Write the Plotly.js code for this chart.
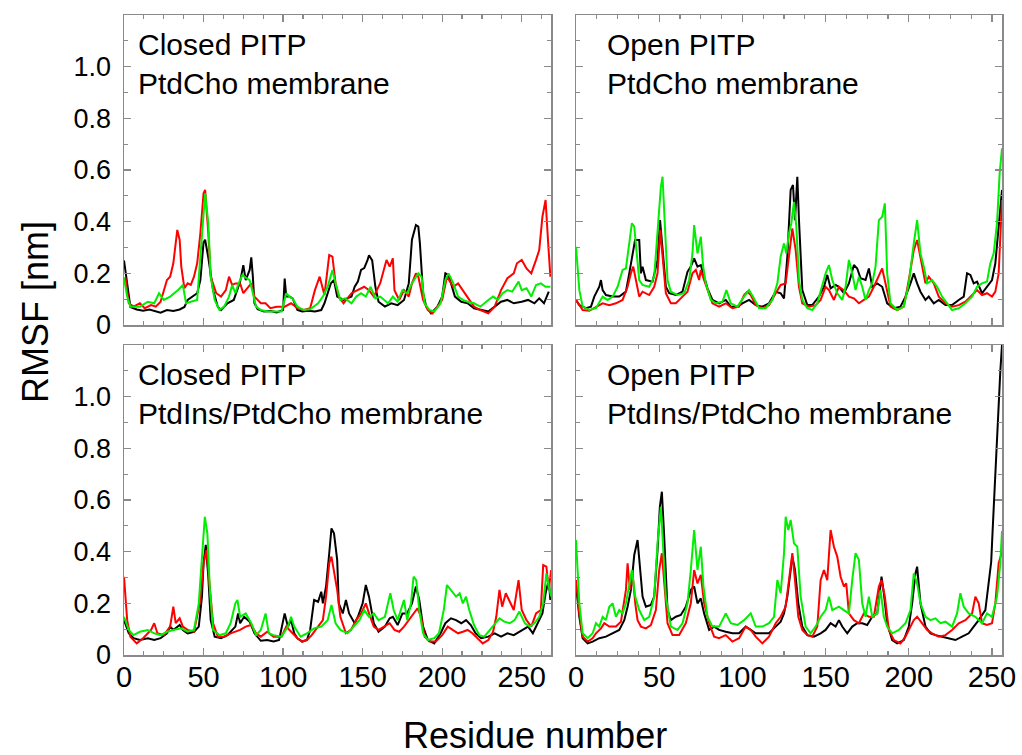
<!DOCTYPE html>
<html>
<head>
<meta charset="utf-8">
<script src="https://cdn.plot.ly/plotly-3.0.1.min.js"></script>
<style>
  html, body { margin: 0; padding: 0; background: #ffffff; }
  #chart { width: 1022px; height: 755px; }
</style>
</head>
<body>
<div id="chart"></div>
<script>
// RMSF per residue, [residue, rmsf in nm], for each simulation and replica colour.

// Closed PITP, PtdCho membrane
const closedPcBlack = [[0,0.25],[4,0.07],[8,0.06],[12,0.055],[16,0.06],[20,0.052],[23,0.048],[27,0.058],[31,0.054],[35,0.06],[38,0.07],[40,0.097],[43,0.11],[46,0.123],[48,0.174],[50,0.32],[51,0.33],[53,0.26],[56,0.135],[59,0.07],[61,0.058],[65,0.084],[69,0.097],[73,0.168],[75,0.232],[76.5,0.174],[79,0.213],[80,0.262],[81,0.187],[82,0.084],[84,0.061],[88,0.052],[92,0.054],[96,0.049],[100,0.058],[101,0.18],[102,0.11],[104,0.11],[106,0.103],[109,0.058],[112,0.052],[116,0.055],[120,0.052],[124,0.058],[126,0.084],[130,0.161],[132,0.174],[134,0.11],[138,0.097],[143,0.11],[145,0.148],[147,0.168],[149,0.213],[151,0.22],[153,0.25],[154,0.27],[156,0.25],[158,0.148],[160,0.09],[164,0.071],[168,0.084],[172,0.077],[176,0.097],[179,0.161],[181,0.33],[183.5,0.387],[185,0.381],[186,0.316],[188,0.123],[190,0.071],[193,0.045],[197,0.071],[200,0.11],[202,0.2],[204,0.194],[208,0.11],[212,0.09],[216,0.084],[220,0.065],[224,0.058],[229,0.052],[233,0.071],[237,0.09],[241,0.097],[245,0.084],[250,0.09],[254,0.097],[258,0.084],[261,0.103],[264,0.084],[267,0.129]];
const closedPcRed = [[0,0.18],[1,0.18],[3,0.084],[6,0.071],[10,0.084],[13,0.065],[17,0.077],[20,0.071],[23,0.09],[27,0.174],[29,0.187],[31,0.239],[33.5,0.368],[35,0.329],[36,0.226],[37,0.187],[38,0.142],[40,0.161],[42,0.155],[44,0.187],[46,0.239],[48,0.355],[50,0.51],[51,0.523],[53,0.355],[54.5,0.187],[58,0.123],[61,0.11],[64,0.135],[66,0.187],[68,0.155],[70,0.161],[73,0.161],[75,0.123],[78,0.148],[80,0.161],[82,0.11],[86,0.084],[89,0.084],[92,0.065],[96,0.071],[101,0.071],[105,0.084],[109,0.065],[113,0.058],[117,0.065],[120,0.135],[123,0.187],[126,0.116],[129,0.271],[131,0.265],[133,0.161],[135,0.11],[138,0.084],[143,0.123],[147,0.135],[151,0.148],[154,0.135],[157,0.11],[161,0.161],[165,0.252],[167,0.226],[169,0.258],[170,0.135],[173,0.097],[176,0.135],[179,0.11],[181,0.161],[183.5,0.2],[185,0.187],[188,0.097],[191,0.058],[194,0.045],[197,0.071],[200,0.097],[203,0.187],[207,0.148],[210,0.161],[213,0.135],[216,0.11],[220,0.071],[224,0.058],[229,0.045],[233,0.071],[237,0.135],[241,0.181],[245,0.2],[247,0.239],[250,0.252],[253,0.219],[256,0.2],[259,0.252],[261,0.29],[263,0.419],[265,0.484],[266.5,0.329],[268,0.187]];
const closedPcGreen = [[0,0.181],[2,0.11],[4,0.071],[6,0.071],[10,0.071],[15,0.09],[19,0.084],[22,0.123],[25,0.097],[29,0.11],[34,0.135],[37,0.155],[39,0.084],[42,0.09],[46,0.097],[48,0.265],[50,0.458],[51,0.51],[53,0.394],[54.5,0.187],[57,0.097],[60,0.058],[63,0.071],[66,0.11],[68,0.155],[70,0.123],[72,0.161],[74.5,0.194],[77,0.181],[79,0.174],[81,0.123],[83,0.071],[86,0.058],[90,0.052],[94,0.052],[99,0.052],[102,0.123],[104,0.11],[106,0.103],[109,0.071],[113,0.058],[117,0.061],[122,0.084],[125,0.11],[128,0.148],[131,0.213],[133,0.161],[136,0.097],[139,0.103],[143,0.084],[146,0.11],[149,0.123],[152,0.11],[155,0.148],[158,0.103],[161,0.11],[166,0.084],[169,0.11],[172,0.09],[175,0.135],[178,0.123],[181,0.161],[185,0.2],[187,0.187],[189,0.084],[192,0.058],[195,0.052],[199,0.084],[202,0.174],[204,0.2],[207,0.161],[210,0.11],[213,0.097],[216,0.09],[220,0.084],[224,0.071],[229,0.097],[232,0.11],[235,0.097],[238,0.123],[241,0.135],[244,0.129],[248,0.168],[250,0.135],[253,0.142],[256,0.11],[259,0.155],[262,0.161],[265,0.148],[268,0.148]];

// Open PITP, PtdCho membrane
const openPcBlack = [[0,0.097],[2,0.077],[6,0.065],[9,0.071],[11,0.11],[14,0.148],[15,0.174],[16,0.135],[18,0.116],[22,0.11],[26,0.11],[30,0.129],[32,0.2],[34,0.277],[35.5,0.329],[38,0.329],[39,0.2],[40,0.226],[42,0.174],[46,0.168],[49,0.252],[50.5,0.406],[52,0.303],[54,0.148],[56,0.123],[60,0.116],[64,0.129],[67,0.206],[69,0.226],[71,0.258],[73,0.226],[75,0.232],[77,0.187],[79,0.142],[82,0.097],[86,0.084],[90,0.097],[93,0.071],[97,0.071],[100,0.084],[104,0.097],[108,0.077],[112,0.071],[116,0.084],[120,0.129],[123,0.123],[125,0.103],[127,0.265],[129,0.523],[130.4,0.542],[131.6,0.406],[133,0.574],[134,0.406],[136,0.135],[139,0.077],[142,0.077],[146,0.11],[149,0.148],[151,0.194],[153,0.142],[156,0.155],[158,0.148],[161,0.123],[164,0.161],[167,0.232],[169,0.219],[171,0.181],[174,0.174],[176,0.219],[178,0.148],[181,0.161],[184,0.148],[187,0.084],[191,0.065],[195,0.071],[198,0.11],[201,0.161],[203,0.2],[205,0.161],[207,0.129],[210,0.097],[212,0.11],[215,0.084],[218,0.097],[222,0.077],[226,0.077],[230,0.097],[233,0.11],[235,0.2],[237,0.194],[239,0.161],[241,0.168],[244,0.123],[247,0.148],[250,0.174],[252,0.239],[254,0.394],[256,0.523]];
const openPcRed = [[0,0.097],[4,0.058],[8,0.055],[12,0.071],[16,0.084],[20,0.077],[24,0.084],[28,0.097],[31,0.148],[33,0.2],[34.4,0.226],[36,0.174],[38,0.11],[40,0.129],[44,0.116],[47,0.148],[49,0.2],[50.6,0.368],[52,0.277],[54,0.123],[57,0.084],[60,0.084],[64,0.11],[67,0.129],[70,0.2],[72,0.213],[74,0.174],[75,0.213],[77,0.174],[79,0.135],[82,0.084],[86,0.071],[90,0.084],[94,0.065],[98,0.071],[101,0.116],[103,0.129],[105,0.116],[108,0.077],[112,0.065],[116,0.077],[120,0.123],[123,0.155],[126,0.161],[128,0.265],[130,0.374],[132,0.29],[134,0.148],[136,0.084],[140,0.071],[144,0.077],[147,0.097],[150,0.148],[152,0.135],[155,0.097],[158,0.148],[161,0.135],[164,0.11],[167,0.103],[170,0.084],[173,0.097],[176,0.11],[179,0.148],[181,0.174],[184,0.219],[186,0.161],[189,0.071],[193,0.058],[197,0.071],[200,0.174],[203,0.29],[205,0.329],[207,0.258],[210,0.161],[212,0.187],[215,0.161],[218,0.11],[222,0.084],[226,0.071],[230,0.077],[234,0.09],[238,0.116],[241,0.135],[244,0.116],[247,0.123],[250,0.11],[252,0.129],[254,0.2],[256,0.484]];
const openPcGreen = [[0,0.303],[2,0.135],[4,0.071],[8,0.058],[12,0.065],[16,0.11],[19,0.097],[22,0.11],[25,0.148],[28,0.213],[30,0.219],[32,0.329],[33.6,0.394],[35,0.381],[36,0.303],[38,0.174],[40,0.155],[44,0.148],[47,0.187],[49,0.368],[51,0.535],[52,0.574],[53,0.419],[55,0.174],[57,0.129],[61,0.116],[65,0.123],[68,0.174],[70,0.277],[71,0.387],[73,0.277],[75,0.342],[76.4,0.226],[78,0.161],[81,0.097],[84,0.084],[88,0.09],[90.4,0.135],[93,0.084],[97,0.071],[101,0.11],[104,0.135],[107,0.103],[110,0.065],[114,0.065],[118,0.097],[121,0.161],[123,0.265],[125,0.316],[126.4,0.277],[128,0.355],[129.4,0.394],[131,0.477],[132.4,0.381],[134,0.174],[136,0.097],[139,0.065],[142,0.058],[145,0.084],[148,0.148],[150,0.2],[152,0.232],[154,0.174],[157,0.123],[160,0.097],[162,0.148],[164,0.252],[166,0.2],[168,0.135],[170,0.187],[172,0.148],[174,0.097],[176,0.135],[178,0.161],[180,0.226],[182,0.406],[184,0.419],[185.6,0.471],[187,0.2],[189,0.084],[193,0.058],[197,0.071],[200,0.161],[203,0.316],[205,0.406],[207,0.277],[209,0.226],[211,0.161],[214,0.174],[217,0.148],[220,0.11],[223,0.084],[226,0.058],[230,0.065],[234,0.084],[238,0.11],[241,0.148],[244,0.161],[247,0.168],[249,0.239],[251,0.277],[253,0.394],[254.6,0.587],[256,0.684]];

// Closed PITP, PtdIns/PtdCho membrane
const closedPiBlack = [[0,0.135],[3,0.084],[6,0.065],[10,0.058],[15,0.065],[19,0.058],[23,0.065],[27,0.084],[29,0.11],[31,0.097],[35,0.116],[37,0.097],[40,0.084],[44,0.09],[47,0.11],[49,0.226],[50,0.355],[51.4,0.426],[53,0.303],[54.5,0.135],[57,0.071],[61,0.065],[65,0.077],[68,0.097],[70,0.11],[71.7,0.161],[73,0.123],[75.5,0.148],[79,0.129],[82,0.084],[86,0.055],[90,0.058],[94,0.052],[97.5,0.058],[101,0.161],[103,0.11],[105,0.135],[107,0.084],[109,0.065],[112,0.052],[115,0.058],[117,0.097],[119.5,0.213],[122,0.206],[124,0.245],[125,0.2],[127,0.265],[129,0.394],[130.4,0.49],[132,0.471],[134,0.368],[135,0.2],[137.5,0.161],[139.5,0.213],[141.5,0.161],[145,0.123],[147,0.148],[150,0.2],[152,0.271],[154,0.226],[157,0.123],[160,0.09],[164,0.11],[167,0.142],[169,0.148],[172,0.116],[175,0.161],[178,0.161],[181,0.2],[183.5,0.265],[185.6,0.213],[188,0.11],[191,0.058],[195,0.045],[199,0.084],[202,0.123],[205.5,0.142],[208.7,0.135],[212,0.123],[215,0.135],[218,0.116],[221,0.084],[224.5,0.065],[229,0.071],[233,0.084],[237,0.071],[241,0.084],[245,0.077],[250,0.097],[254,0.11],[257,0.084],[260,0.123],[263,0.161],[265,0.239],[267,0.29],[268,0.213]];
const closedPiRed = [[0,0.303],[2,0.135],[4,0.071],[8,0.045],[12,0.065],[17,0.097],[19,0.123],[21,0.084],[25,0.077],[29,0.11],[31,0.187],[32.5,0.123],[35,0.142],[37,0.11],[40,0.097],[44,0.09],[48,0.213],[50,0.355],[51.8,0.406],[53.5,0.29],[56,0.123],[59,0.071],[63,0.071],[67,0.084],[70,0.09],[73,0.097],[76.5,0.11],[80,0.116],[83,0.084],[86,0.071],[90,0.09],[94,0.071],[99,0.071],[102,0.11],[104,0.097],[106,0.084],[109,0.065],[112,0.052],[115,0.058],[118,0.077],[122,0.11],[125,0.135],[127,0.226],[129,0.355],[130.4,0.381],[132,0.329],[134,0.252],[136,0.148],[139.5,0.084],[142.6,0.097],[146,0.135],[149,0.161],[152,0.2],[154,0.161],[157,0.11],[160,0.097],[164,0.11],[167,0.123],[170,0.097],[173,0.09],[176,0.11],[179,0.135],[182,0.161],[184.5,0.181],[186.7,0.148],[189,0.071],[192,0.052],[196,0.052],[200,0.077],[203.5,0.11],[206.6,0.097],[210,0.084],[213,0.09],[216,0.097],[219,0.084],[222,0.065],[225.5,0.045],[229,0.058],[232,0.09],[234,0.148],[236,0.252],[237.7,0.187],[240,0.239],[242,0.213],[245,0.174],[248,0.29],[250,0.174],[253,0.135],[256,0.11],[259,0.161],[262,0.174],[263.5,0.348],[265.5,0.342],[267,0.252],[268.5,0.329]];
const closedPiGreen = [[0,0.148],[3,0.097],[6,0.077],[10,0.09],[15,0.097],[19,0.084],[23,0.077],[27,0.09],[31,0.097],[36,0.103],[40,0.09],[44,0.097],[47,0.2],[49,0.394],[50.8,0.535],[52.4,0.471],[54,0.252],[56,0.097],[60,0.077],[64,0.084],[67,0.123],[70,0.2],[71.3,0.213],[73,0.148],[76.5,0.161],[80,0.123],[83,0.077],[86,0.097],[89,0.161],[91,0.084],[94,0.077],[99,0.071],[103,0.11],[105,0.148],[107,0.11],[111,0.071],[115,0.084],[119.5,0.103],[124,0.11],[128,0.135],[130.4,0.194],[133,0.123],[136,0.097],[140.5,0.084],[145,0.116],[148,0.135],[151,0.174],[154,0.148],[157,0.161],[160,0.135],[164,0.148],[166,0.2],[167.4,0.239],[169.5,0.174],[172,0.135],[174,0.174],[176,0.213],[178,0.135],[180.4,0.2],[182,0.303],[183.7,0.29],[185.6,0.174],[188,0.084],[191,0.058],[195,0.065],[198,0.084],[201,0.174],[203,0.271],[205.5,0.252],[208.7,0.226],[211,0.239],[213,0.2],[215,0.226],[217,0.174],[220,0.116],[223.4,0.077],[226.5,0.071],[230,0.097],[233,0.123],[236,0.142],[239,0.129],[242.5,0.123],[245.5,0.135],[248.5,0.168],[252,0.123],[255,0.11],[258,0.123],[261,0.148],[263.5,0.2],[265.5,0.316],[267,0.265],[268.5,0.226]];

// Open PITP, PtdIns/PtdCho membrane
const openPiBlack = [[0,0.27],[2,0.148],[4,0.065],[7,0.045],[10,0.052],[14,0.065],[18,0.071],[22,0.084],[26,0.097],[29,0.135],[31,0.187],[33,0.252],[35,0.387],[37,0.445],[38.6,0.329],[40,0.226],[42,0.187],[45,0.194],[47,0.226],[49,0.406],[50.4,0.574],[51.6,0.632],[53,0.458],[55,0.174],[57,0.135],[60,0.148],[63,0.155],[66,0.187],[69,0.252],[71,0.265],[73,0.2],[75,0.219],[77,0.161],[80,0.097],[83,0.11],[86,0.097],[90,0.09],[94,0.084],[98,0.084],[102,0.11],[105,0.097],[108,0.084],[112,0.084],[116,0.084],[120,0.11],[123,0.129],[125,0.161],[127,0.226],[129,0.329],[130,0.381],[131.6,0.329],[133.6,0.2],[136,0.11],[139,0.077],[143,0.071],[147,0.084],[150,0.097],[153,0.123],[156,0.11],[158,0.135],[160,0.11],[163,0.084],[166,0.11],[169,0.123],[172,0.123],[175,0.116],[178,0.148],[181,0.161],[183.6,0.303],[185,0.239],[187,0.123],[190,0.058],[193,0.045],[197,0.058],[200,0.11],[202,0.2],[204,0.316],[205,0.342],[207,0.2],[210,0.11],[213,0.084],[216,0.077],[220,0.071],[224,0.065],[228,0.058],[232,0.071],[236,0.084],[239,0.11],[242,0.135],[246,0.174],[248,0.28],[249.5,0.36],[250.5,0.5],[252,0.72],[253.5,0.92],[255,1.1],[256,1.2]];
const openPiRed = [[0,0.29],[2,0.161],[4,0.071],[7,0.052],[10,0.065],[12,0.084],[15,0.103],[17,0.123],[20,0.11],[24,0.11],[27,0.129],[30,0.252],[31,0.355],[32.4,0.252],[34,0.316],[35.6,0.2],[37,0.135],[39,0.11],[42,0.103],[45,0.116],[48,0.174],[50,0.329],[51.6,0.394],[53,0.29],[55,0.123],[58,0.077],[62,0.077],[66,0.123],[69,0.2],[71,0.329],[73,0.277],[75,0.31],[77,0.2],[80,0.123],[83,0.071],[86,0.065],[90,0.077],[94,0.052],[98,0.065],[102,0.11],[105,0.097],[108,0.071],[112,0.045],[116,0.071],[120,0.123],[123,0.148],[126,0.187],[128,0.29],[130,0.394],[131.6,0.29],[133.6,0.148],[136,0.097],[139,0.077],[142,0.071],[145,0.11],[147,0.29],[149,0.329],[151,0.29],[153,0.484],[155,0.419],[157,0.381],[159,0.303],[161,0.265],[162.4,0.277],[164,0.161],[167,0.135],[170,0.123],[173,0.161],[176,0.148],[179,0.148],[182,0.265],[183.6,0.29],[185.6,0.226],[188,0.097],[191,0.058],[195,0.045],[198,0.071],[201,0.11],[203,0.135],[205,0.148],[208,0.123],[211,0.097],[214,0.084],[218,0.071],[222,0.077],[226,0.097],[230,0.123],[234,0.135],[238,0.161],[240,0.226],[242,0.2],[244,0.123],[247,0.116],[250,0.123],[252,0.2],[254,0.355],[256,0.4]];
const openPiGreen = [[0,0.445],[2,0.2],[4,0.084],[7,0.065],[10,0.084],[12,0.123],[14,0.11],[16,0.148],[18,0.135],[20,0.187],[22,0.2],[24,0.148],[26,0.174],[28,0.161],[30,0.2],[32,0.265],[33.6,0.329],[35.6,0.226],[38,0.174],[41,0.135],[44,0.148],[47,0.226],[49,0.432],[51,0.574],[52.4,0.419],[54,0.226],[57,0.11],[61,0.097],[64,0.123],[67,0.2],[69,0.329],[71,0.484],[73,0.329],[75,0.419],[76.6,0.265],[79,0.148],[82,0.11],[86,0.11],[90,0.161],[93,0.123],[97,0.116],[101,0.135],[105,0.161],[108,0.11],[112,0.11],[116,0.123],[119,0.148],[121,0.29],[123,0.239],[125,0.394],[126,0.535],[127.6,0.484],[129,0.523],[131,0.432],[133,0.419],[135,0.226],[138,0.11],[141,0.084],[144,0.11],[147,0.148],[150,0.174],[152,0.226],[154,0.174],[158,0.187],[161,0.174],[164,0.161],[166,0.29],[168,0.394],[170,0.368],[172,0.2],[174,0.148],[176,0.226],[178,0.148],[181,0.161],[183,0.252],[185,0.148],[187,0.11],[190,0.084],[194,0.097],[198,0.123],[201,0.174],[203,0.316],[205,0.277],[207,0.2],[210,0.148],[213,0.135],[216,0.142],[219,0.123],[222,0.129],[226,0.11],[229,0.161],[231,0.239],[233,0.187],[236,0.161],[240,0.148],[244,0.123],[247,0.161],[250,0.148],[253,0.226],[255,0.355],[256,0.48]];

// Axis tick labels
const residueTicks = [0, 50, 100, 150, 200, 250];
const residueTickText = ['0', '50', '100', '150', '200', '250'];
const rmsfTicks = [0, 0.2, 0.4, 0.6, 0.8, 1.0];
const rmsfTickText = ['0', '0.2', '0.4', '0.6', '0.8', '1.0'];

// Panel captions
const panelCaptions = [
  'Closed PITP<br>PtdCho membrane',
  'Open PITP<br>PtdCho membrane',
  'Closed PITP<br>PtdIns/PtdCho membrane',
  'Open PITP<br>PtdIns/PtdCho membrane'
];

const W = 1022, H = 755;
const fx = (p) => p / W;
const fy = (p) => 1 - p / H;

const FONT = 'Liberation Sans, Arial, Helvetica, sans-serif';
const FRAME = '#8a8a8a';
const COLORS = { black: '#000000', red: '#ff0000', green: '#00ee00' };

const panels = [
  { series: [closedPcBlack, closedPcRed, closedPcGreen], xa: 'x',  ya: 'y'  },
  { series: [openPcBlack,   openPcRed,   openPcGreen],   xa: 'x2', ya: 'y2' },
  { series: [closedPiBlack, closedPiRed, closedPiGreen], xa: 'x3', ya: 'y3' },
  { series: [openPiBlack,   openPiRed,   openPiGreen],   xa: 'x4', ya: 'y4' }
];
const colourOrder = [COLORS.black, COLORS.red, COLORS.green];

const traces = [];
panels.forEach((p) => {
  p.series.forEach((s, i) => {
    traces.push({
      type: 'scatter',
      mode: 'lines',
      x: s.map((d) => d[0]),
      y: s.map((d) => d[1]),
      xaxis: p.xa,
      yaxis: p.ya,
      line: { color: colourOrder[i], width: 2 },
      hoverinfo: 'x+y',
      showlegend: false
    });
  });
});

function baseAxis(size) {
  return {
    showline: true, linecolor: FRAME, linewidth: 1.5, mirror: 'ticks',
    ticks: 'inside', ticklen: 7, tickwidth: 1.3, tickcolor: FRAME,
    showgrid: false, zeroline: false, fixedrange: true,
    tickfont: { family: FONT, size: size, color: '#000000' }
  };
}
function xAxis(domain, maxRes, anchor, labels) {
  return Object.assign(baseAxis(29), {
    domain: domain, range: [0, maxRes], anchor: anchor,
    tickmode: 'array', tickvals: residueTicks, ticktext: residueTickText,
    showticklabels: labels, ticklabelstandoff: -4,
    minor: { ticks: 'inside', ticklen: 4, tickwidth: 1.2, tickcolor: FRAME, tick0: 0, dtick: 12.5, showgrid: false }
  });
}
function yAxis(domain, anchor, labels) {
  return Object.assign(baseAxis(27), {
    domain: domain, range: [0, 1.2], anchor: anchor,
    tickmode: 'array', tickvals: rmsfTicks, ticktext: rmsfTickText,
    showticklabels: labels, ticklabelstandoff: 6,
    minor: { ticks: 'inside', ticklen: 4, tickwidth: 1.2, tickcolor: FRAME, tick0: 0, dtick: 0.1, showgrid: false }
  });
}

const leftX = [fx(124), fx(551)];
const rightX = [fx(576), fx(1002)];
const topY = [fy(325), fy(15)];
const botY = [fy(655), fy(345)];

const captionPos = [[136, 26], [605, 26], [136, 356], [605, 356]];
const annotations = panelCaptions.map((t, i) => ({
  text: t, xref: 'paper', yref: 'paper',
  x: fx(captionPos[i][0]), y: fy(captionPos[i][1]),
  xanchor: 'left', yanchor: 'top', align: 'left', showarrow: false,
  font: { family: FONT, size: 30, color: '#000000' }
}));
annotations.push({
  text: 'Residue number', xref: 'paper', yref: 'paper',
  x: fx(535), y: fy(735), xanchor: 'center', yanchor: 'middle', showarrow: false,
  font: { family: FONT, size: 36, color: '#000000' }
});
annotations.push({
  text: 'RMSF [nm]', xref: 'paper', yref: 'paper', textangle: -90,
  x: fx(35), y: fy(312), xanchor: 'center', yanchor: 'middle', showarrow: false,
  font: { family: FONT, size: 36, color: '#000000' }
});

const layout = {
  width: W, height: H,
  margin: { l: 0, r: 0, t: 0, b: 0 },
  paper_bgcolor: '#ffffff', plot_bgcolor: '#ffffff',
  showlegend: false,
  xaxis:  xAxis(leftX, 268.4, 'y', false),
  yaxis:  yAxis(topY, 'x', true),
  xaxis2: xAxis(rightX, 256, 'y2', false),
  yaxis2: yAxis(topY, 'x2', false),
  xaxis3: xAxis(leftX, 268.4, 'y3', true),
  yaxis3: yAxis(botY, 'x3', true),
  xaxis4: xAxis(rightX, 256, 'y4', true),
  yaxis4: yAxis(botY, 'x4', false),
  annotations: annotations
};

Plotly.newPlot('chart', traces, layout, { displayModeBar: false, staticPlot: true });
</script>
</body>
</html>
